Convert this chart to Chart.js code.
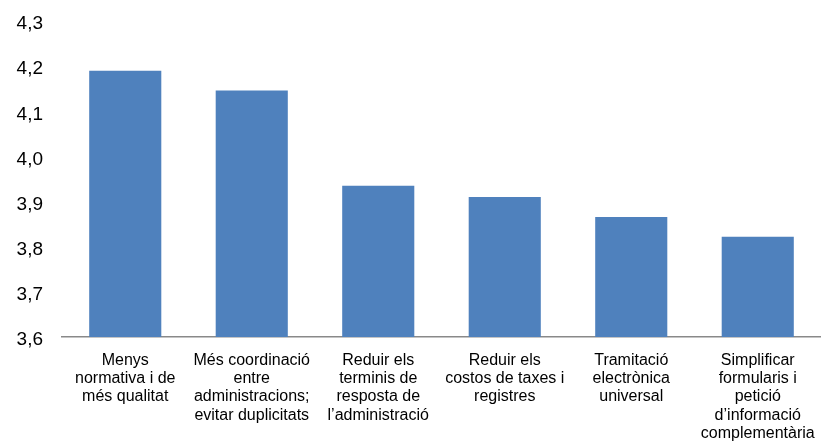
<!DOCTYPE html>
<html>
<head>
<meta charset="utf-8">
<script src="https://cdn.jsdelivr.net/npm/chart.js@4"></script>
<style>
  html, body { margin:0; padding:0; background:#fff; overflow:hidden; }
  #wrap { position:relative; width:821px; height:443px; }
</style>
</head>
<body>
<div id="wrap"><canvas id="c"></canvas></div>
<script>
const categories = [
  ["Menys", "normativa i de", "més qualitat"],
  ["Més coordinació", "entre", "administracions;", "evitar duplicitats"],
  ["Reduir els", "terminis de", "resposta de", "l’administració"],
  ["Reduir els", "costos de taxes i", "registres"],
  ["Tramitació", "electrònica", "universal"],
  ["Simplificar", "formularis i", "petició", "d’informació", "complementària"]
];
const values = [4.190, 4.146, 3.935, 3.910, 3.866, 3.822];
const yTickLabels = ["3,6", "3,7", "3,8", "3,9", "4,0", "4,1", "4,2", "4,3"];
const yMin = 3.6, yMax = 4.3, yStep = 0.1;

new Chart(document.getElementById('c'), {
  type: 'bar',
  data: {
    labels: categories,
    datasets: [{
      data: values,
      backgroundColor: '#4F81BD',
      borderWidth: 0,
      barPercentage: 0.57,
      categoryPercentage: 1.0
    }]
  },
  options: {
    responsive: true,
    maintainAspectRatio: false,
    animation: false,
    devicePixelRatio: 1,
    layout: { padding: { top: 21, left: 0, right: 0, bottom: 0 } },
    plugins: { legend: { display: false }, tooltip: { enabled: false } },
    scales: {
      x: {
        grid: { display: false, drawTicks: false },
        border: { display: true, color: '#898989', width: 1.5 },
        afterFit: (s) => { s.height = 106; s.paddingRight = 0; s.paddingLeft = 0; },
        ticks: {
          color: '#000',
          font: { family: 'Liberation Sans, Arial, sans-serif', size: 16, lineHeight: 1.15 },
          padding: 14,
          maxRotation: 0,
          autoSkip: false
        }
      },
      y: {
        min: yMin, max: yMax,
        grid: { display: false, drawTicks: false },
        border: { display: false },
        afterFit: (s) => { s.width = 62; s.paddingTop = 0; s.paddingBottom = 0; },
        ticks: {
          stepSize: yStep,
          color: '#000',
          padding: 19,
          labelOffset: 3,
          font: { family: 'Liberation Sans, Arial, sans-serif', size: 19 },
          callback: (v, i) => yTickLabels[i]
        }
      }
    }
  }
});
</script>
</body>
</html>
